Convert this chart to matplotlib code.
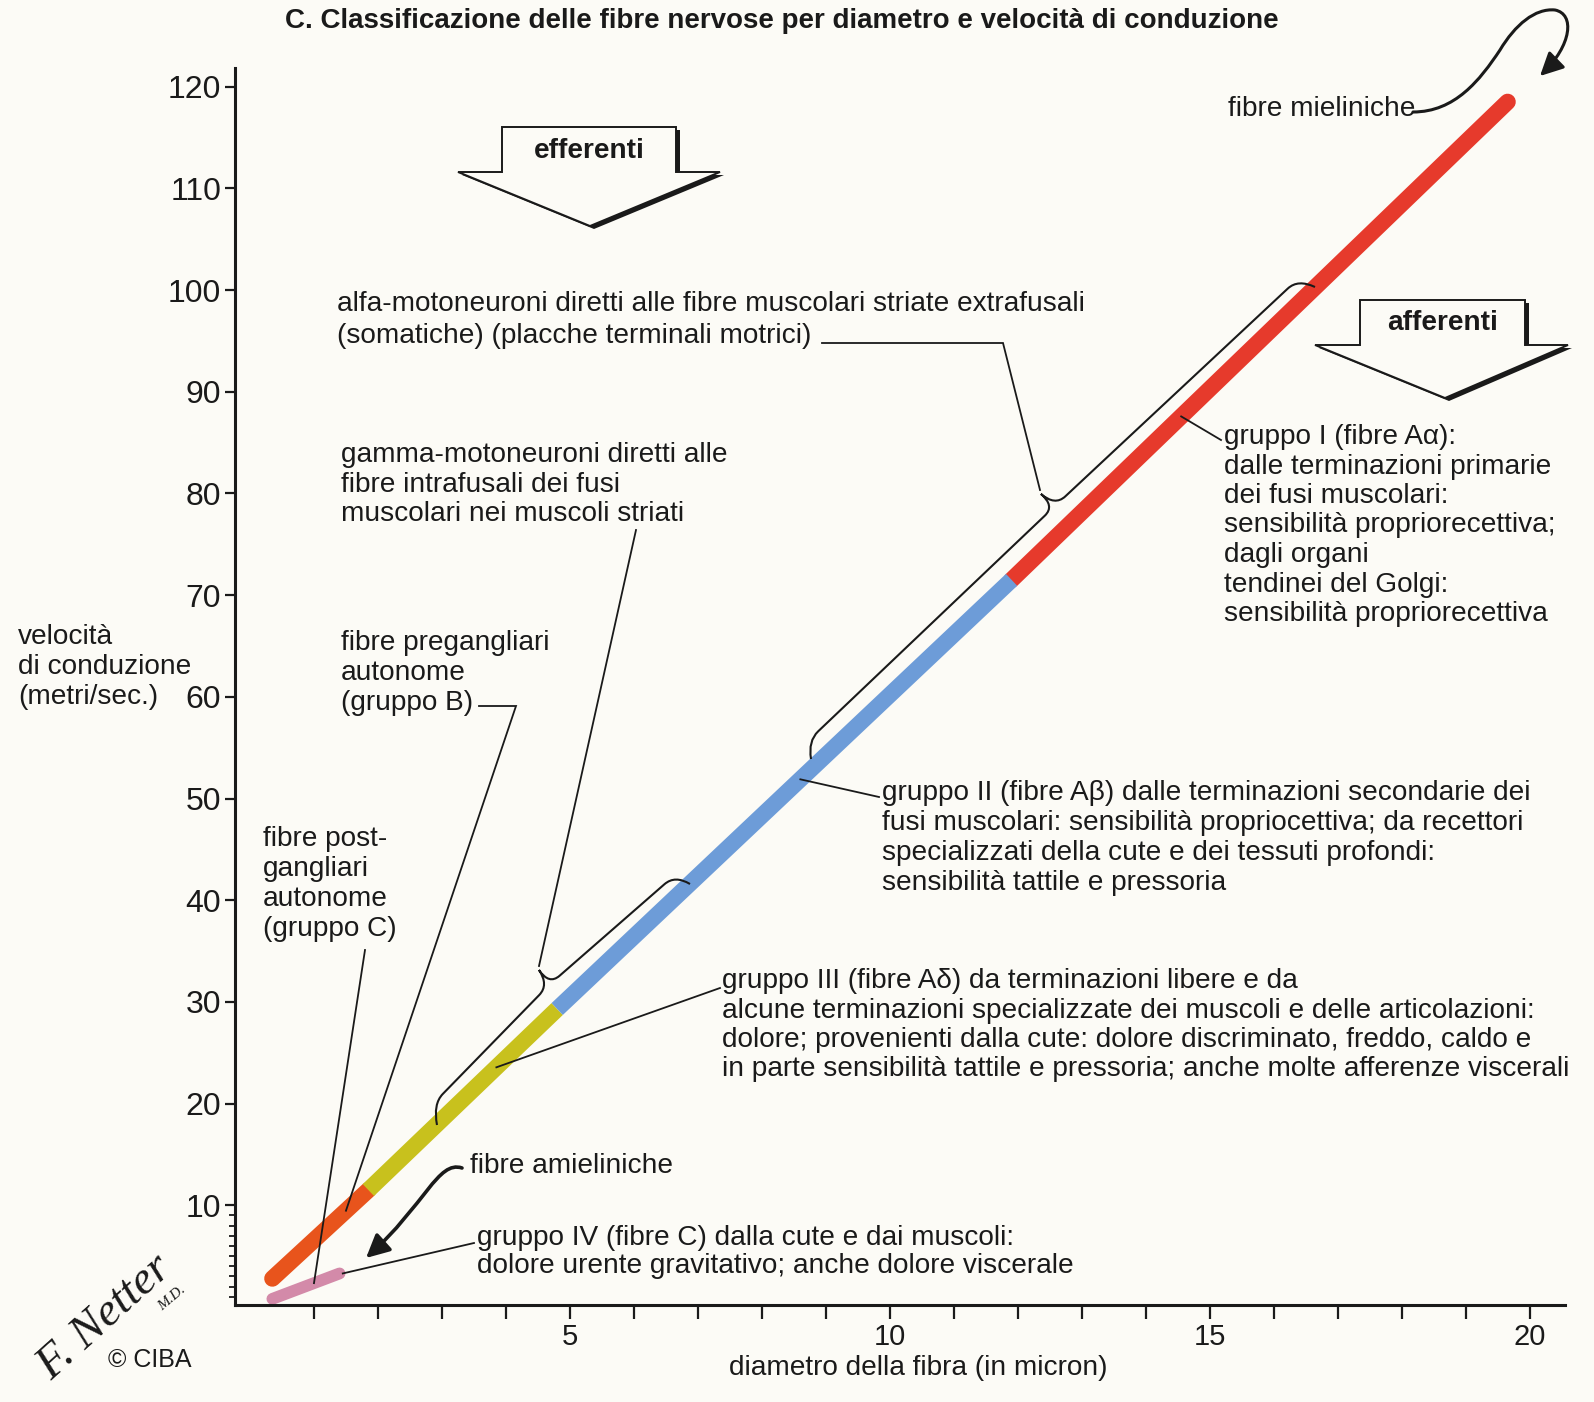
import numpy as np
import matplotlib.pyplot as plt
from matplotlib.path import Path
from matplotlib.patches import PathPatch, Polygon, FancyArrowPatch

plt.rcParams['font.family'] = ['Liberation Sans', 'DejaVu Sans']

W, H = 1594, 1402
BG = '#fcfbf6'
INK = '#1a1a1a'
FS = 20.2

# fibre mieliniche: diametro (micron) -> velocita (m/s), un tratto per colore
seg_diam = [(0.35, 1.85), (1.85, 4.8), (4.8, 11.9), (11.9, 19.65)]
seg_vel = [(2.8, 11.5), (11.5, 29.3), (29.3, 71.5), (71.5, 118.5)]
seg_colors = ['#e8541c', '#c8c11d', '#6d9cd8', '#e63a2c']

# fibre amieliniche (gruppo IV, fibre C)
amiel_diam = [0.35, 1.4]
amiel_vel = [0.8, 3.3]
amiel_color = '#d38aa9'

x_ticks = list(range(1, 21))
x_labels = [str(v) if v % 5 == 0 else '' for v in x_ticks]
y_ticks = list(range(10, 121, 10))
y_minor = list(range(1, 10))

fig = plt.figure(figsize=(W / 100, H / 100), dpi=100, facecolor=BG)
ax = fig.add_axes([235 / W, 1 - 1305 / H, 1330 / W, 1237 / H])
ax.set_facecolor('none')
ax.set_xlim(-0.234, 20.547)
ax.set_ylim(0.197, 121.83)

last = len(seg_diam) - 1
for i, (d, v) in enumerate(zip(seg_diam, seg_vel)):
    # the end pieces get round caps and sit below, the middle ones cover the joints
    rounded = i in (0, last)
    ax.plot(d, v, color=seg_colors[i], lw=11.8,
            solid_capstyle='round' if rounded else 'butt',
            zorder=2 if rounded else 3)
ax.plot(amiel_diam, amiel_vel, color=amiel_color, lw=8.5, solid_capstyle='round', zorder=2)

for s in ('top', 'right'):
    ax.spines[s].set_visible(False)
for s in ('left', 'bottom'):
    ax.spines[s].set_linewidth(2.2)
    ax.spines[s].set_color(INK)
ax.set_xticks(x_ticks, x_labels)
ax.set_yticks(y_ticks)
ax.set_yticks(y_minor, minor=True)
ax.tick_params(axis='x', length=10, width=1.6, labelsize=21, pad=3, colors=INK)
ax.tick_params(axis='y', length=7, width=1.6, labelsize=23, pad=3, colors=INK)
ax.tick_params(axis='y', which='minor', length=4, width=1.3, colors=INK)

# overlay in pixel coordinates for all the drawn notes
ov = fig.add_axes([0, 0, 1, 1])
ov.set_xlim(0, W)
ov.set_ylim(H, 0)
ov.axis('off')
ov.patch.set_alpha(0)


def fiber_px(d):
    ds = [p for seg in seg_diam for p in seg]
    vs = [p for seg in seg_vel for p in seg]
    v = np.interp(d, ds, vs)
    disp = ax.transData.transform((d, v))
    return ov.transData.inverted().transform(disp)


def amiel_px(d):
    v = np.interp(d, amiel_diam, amiel_vel)
    disp = ax.transData.transform((d, v))
    return ov.transData.inverted().transform(disp)


def block(x, y0, lines, dy=29.5, **kw):
    for i, s in enumerate(lines):
        ov.text(x, y0 + i * dy, s, fontsize=FS, ha='left', va='center', color=INK, **kw)


def leader(pts, lw=1.3):
    xs, ys = zip(*pts)
    ov.plot(xs, ys, color=INK, lw=lw, solid_joinstyle='miter')


def brace(hp, p, m, t, q, hq, r=14):
    hp, p, m, t, q, hq = [np.array(a, float) for a in (hp, p, m, t, q, hq)]
    u1 = (m - p) / np.linalg.norm(m - p)
    u2 = (q - m) / np.linalg.norm(q - m)
    verts = [hp, p, p + u1 * r, m - u1 * r, m, t, m, m + u2 * r, q - u2 * r, q, hq]
    codes = [Path.MOVETO, Path.CURVE3, Path.CURVE3, Path.LINETO, Path.CURVE3, Path.CURVE3,
             Path.CURVE3, Path.CURVE3, Path.LINETO, Path.CURVE3, Path.CURVE3]
    ov.add_patch(PathPatch(Path(verts, codes), fc='none', ec=INK, lw=1.5))


def block_arrow(xl, xr, top, sh, wl, wr, tip, label):
    pts = [(xl, top), (xr, top), (xr, sh), (wr, sh), tip, (wl, sh), (xl, sh)]
    ov.add_patch(Polygon([(x + 4, y + 3) for x, y in pts], closed=True, fc=INK, ec='none'))
    ov.add_patch(Polygon(pts, closed=True, fc=BG, ec=INK, lw=1.4, joinstyle='miter'))
    ov.text((xl + xr) / 2, (top + sh) / 2 + 1, label, fontsize=FS, fontweight='bold',
            ha='center', va='center', color=INK)


# title and axis labels
ov.text(285, 21, 'C. Classificazione delle fibre nervose per diametro e velocità di conduzione',
        fontsize=20, fontweight='bold', ha='left', va='center', color=INK)
block(18, 637, ['velocità', 'di conduzione', '(metri/sec.)'], dy=30)
ov.text(918, 1368, 'diametro della fibra (in micron)', fontsize=FS, ha='center', va='center', color=INK)

block_arrow(502, 676, 127, 172, 458, 720, (590, 226), 'efferenti')
block_arrow(1360, 1525, 300, 345, 1315, 1568, (1445, 398), 'afferenti')

# efferent notes
block(337, 304, ['alfa-motoneuroni diretti alle fibre muscolari striate extrafusali',
                 '(somatiche) (placche terminali motrici)'], dy=32)
leader([(822, 343), (1003, 343), (1040, 490)])
brace((811, 759), (808, 741), (1055, 506), (1041, 494), (1298, 279), (1315, 287))

block(341, 455, ['gamma-motoneuroni diretti alle', 'fibre intrafusali dei fusi',
                 'muscolari nei muscoli striati'])
leader([(636, 530), (539, 966)])
brace((437, 1125), (433, 1104), (549, 985), (539, 970), (675, 875), (690, 884))

block(341, 643, ['fibre pregangliari', 'autonome', '(gruppo B)'], dy=30)
leader([(479, 706), (516, 706), tuple(fiber_px(1.5))])

block(263, 839, ['fibre post-', 'gangliari', 'autonome', '(gruppo C)'], dy=30)
leader([(365, 950), tuple(amiel_px(1.0))])

# afferent notes
block(1224, 437, ['gruppo I (fibre Aα):', 'dalle terminazioni primarie',
                  'dei fusi muscolari:', 'sensibilità propriorecettiva;',
                  'dagli organi', 'tendinei del Golgi:', 'sensibilità propriorecettiva'])
leader([(1221, 440), tuple(fiber_px(14.55))])

block(882, 793, ['gruppo II (fibre Aβ) dalle terminazioni secondarie dei',
                 'fusi muscolari: sensibilità propriocettiva; da recettori',
                 'specializzati della cute e dei tessuti profondi:',
                 'sensibilità tattile e pressoria'], dy=30)
leader([(879, 797), tuple(fiber_px(8.6))])

block(722, 981, ['gruppo III (fibre Aδ) da terminazioni libere e da',
                 'alcune terminazioni specializzate dei muscoli e delle articolazioni:',
                 'dolore; provenienti dalla cute: dolore discriminato, freddo, caldo e',
                 'in parte sensibilità tattile e pressoria; anche molte afferenze viscerali'])
leader([(720, 988), tuple(fiber_px(3.85))])

block(470, 1166, ['fibre amieliniche'])
curve = Path([(462, 1168), (438, 1160), (425, 1205), (366, 1258)],
             [Path.MOVETO, Path.CURVE4, Path.CURVE4, Path.CURVE4])
ov.add_patch(FancyArrowPatch(path=curve, arrowstyle='-|>,head_length=14,head_width=7',
                             color=INK, lw=2.6))

block(477, 1238, ['gruppo IV (fibre C) dalla cute e dai muscoli:',
                  'dolore urente gravitativo; anche dolore viscerale'], dy=28)
leader([(474, 1243), tuple(amiel_px(1.45))])

block(1228, 109, ['fibre mieliniche'])
curve = Path([(1413, 112), (1455, 112), (1480, 80), (1500, 50),
              (1515, 25), (1535, 8), (1555, 10),
              (1575, 14), (1572, 45), (1540, 76)],
             [Path.MOVETO] + [Path.CURVE4] * 9)
ov.add_patch(FancyArrowPatch(path=curve, arrowstyle='-|>,head_length=14,head_width=7',
                             color=INK, lw=2.2))

# signature
ov.text(105, 1318, 'F. Netter', fontsize=34, family='Liberation Serif', style='italic',
        rotation=42, ha='center', va='center', color=INK)
ov.text(172, 1298, 'M.D.', fontsize=11, family='Liberation Serif', style='italic',
        rotation=40, ha='center', va='center', color=INK)
ov.text(108, 1360, '© CIBA', fontsize=18, ha='left', va='center', color=INK)

fig.savefig('out.png', dpi=100, facecolor=BG)
